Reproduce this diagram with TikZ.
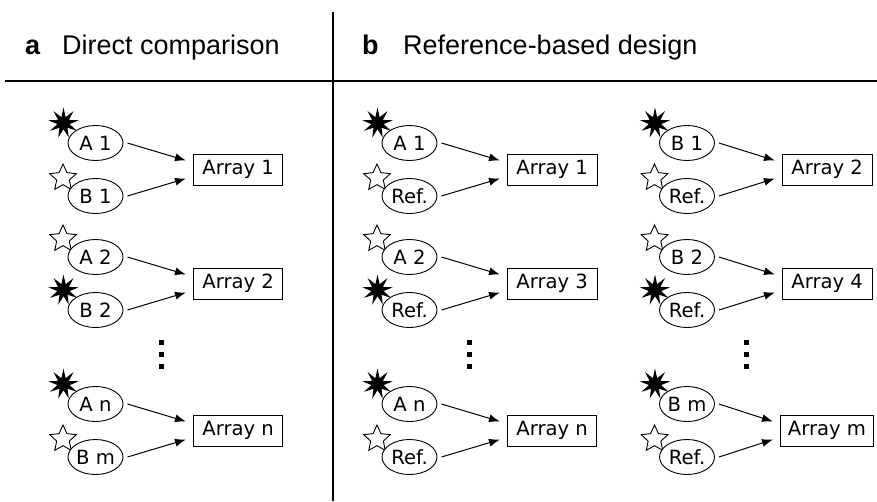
\documentclass[tikz,border=0pt]{standalone}
\usepackage{fontspec}
\setsansfont{DejaVu Sans}
\newfontfamily\headfont{Liberation Sans}
\usetikzlibrary{positioning,shapes.geometric,arrows.meta,backgrounds}

\begin{document}
\begin{tikzpicture}[x=1pt,y=-1pt,
    sample/.style={ellipse,draw,fill=white,inner sep=0pt,minimum width=55pt,minimum height=35pt,line width=0.9pt,font=\sffamily\fontsize{19.6}{20}\selectfont},
    chip/.style={rectangle,draw,anchor=west,inner xsep=9pt,minimum height=31pt,line width=0.9pt,font=\sffamily\fontsize{19.6}{20}\selectfont},
    burst/.style={star,star points=9,star point ratio=2.5,fill=black,inner sep=0pt,minimum size=31pt},
    openstar/.style={star,star points=5,star point ratio=2.1,draw,fill=white,line width=0.9pt,inner sep=0pt,minimum size=28pt},
    dotsq/.style={rectangle,fill=black,inner sep=0pt,minimum size=5pt},
    hyb/.style={line width=1pt,-{Latex[length=11pt,width=8pt]}},
    head/.style={anchor=base west,inner sep=0pt,font=\headfont\fontsize{27}{29}\selectfont}]
  \useasboundingbox (0,0) rectangle (877,501);

  % headings and dividers
  \draw[line width=1.8pt] (5,81) -- (877,81);
  \draw[line width=1.8pt] (333,12) -- (333,501);
  \node[head] (ha) at (25,54) {\bfseries a};
  \node[head] (hta) at (62,54) {Direct comparison};
  \node[head] (hb) at (362,54) {\bfseries b};
  \node[head] (htb) at (403,54) {Reference-based design};

  % a: direct comparison
  \node[sample] (A1) at (95.5,143) {A 1};
  \node[sample] (B1) at (95.5,196) {B 1};
  \node[chip] (Array1) at (193,169.5) {Array 1};
  \node[sample] (A2) at (95.5,257) {A 2};
  \node[sample] (B2) at (95.5,310) {B 2};
  \node[chip] (Array2) at (193,283.5) {Array 2};
  \node[sample] (An) at (95.5,404) {A n};
  \node[sample] (Bm) at (95.5,457) {B m};
  \node[chip] (Arrayn) at (193,430.5) {Array n};

  % b: reference-based design
  \node[sample] (bA1) at (409.5,143) {A 1};
  \node[sample] (bRef1) at (409.5,196) {Ref.};
  \node[chip] (bArray1) at (507,169.5) {Array 1};
  \node[sample] (bA2) at (409.5,257) {A 2};
  \node[sample] (bRef2) at (409.5,310) {Ref.};
  \node[chip] (bArray3) at (507,283.5) {Array 3};
  \node[sample] (bAn) at (409.5,404) {A n};
  \node[sample] (bRef3) at (409.5,457) {Ref.};
  \node[chip] (bArrayn) at (507,430.5) {Array n};

  \node[sample] (bB1) at (687,143) {B 1};
  \node[sample] (bRef4) at (687,196) {Ref.};
  \node[chip] (bArray2) at (782,169.5) {Array 2};
  \node[sample] (bB2) at (687,257) {B 2};
  \node[sample] (bRef5) at (687,310) {Ref.};
  \node[chip] (bArray4) at (782,283.5) {Array 4};
  \node[sample] (bBm) at (687,404) {B m};
  \node[sample] (bRef6) at (687,457) {Ref.};
  \node[chip,inner xsep=7.5pt] (bArraym) at (780,430.5) {Array m};

  % dye labels
  \begin{scope}[on background layer]
    \foreach \s in {A1,B2,An,bA1,bRef2,bAn,bB1,bRef5,bBm}
      \node[burst] at ([shift={(-32,-20)}]\s.center) {};
    \foreach \s in {B1,A2,Bm,bRef1,bA2,bRef3,bRef4,bB2,bRef6}
      \node[openstar] at ([shift={(-32.5,-18)}]\s.center) {};
  \end{scope}

  % hybridisation arrows
  \foreach \top/\bot/\arr in {A1/B1/Array1,A2/B2/Array2,An/Bm/Arrayn,
      bA1/bRef1/bArray1,bA2/bRef2/bArray3,bAn/bRef3/bArrayn,
      bB1/bRef4/bArray2,bB2/bRef5/bArray4,bBm/bRef6/bArraym}{
    \draw[hyb] ([xshift=4pt]\top.east) -- ([xshift=-7pt,yshift=9pt]\arr.west);
    \draw[hyb] ([xshift=4pt]\bot.east) -- ([xshift=-7pt,yshift=-9pt]\arr.west);
  }

  % ellipsis dots
  \foreach \y in {342.5,354.5,366}{
    \node[dotsq] at (161.5,\y) {};
    \node[dotsq] at (469.5,\y) {};
    \node[dotsq] at (746,\y) {};
  }
\end{tikzpicture}
\end{document}
